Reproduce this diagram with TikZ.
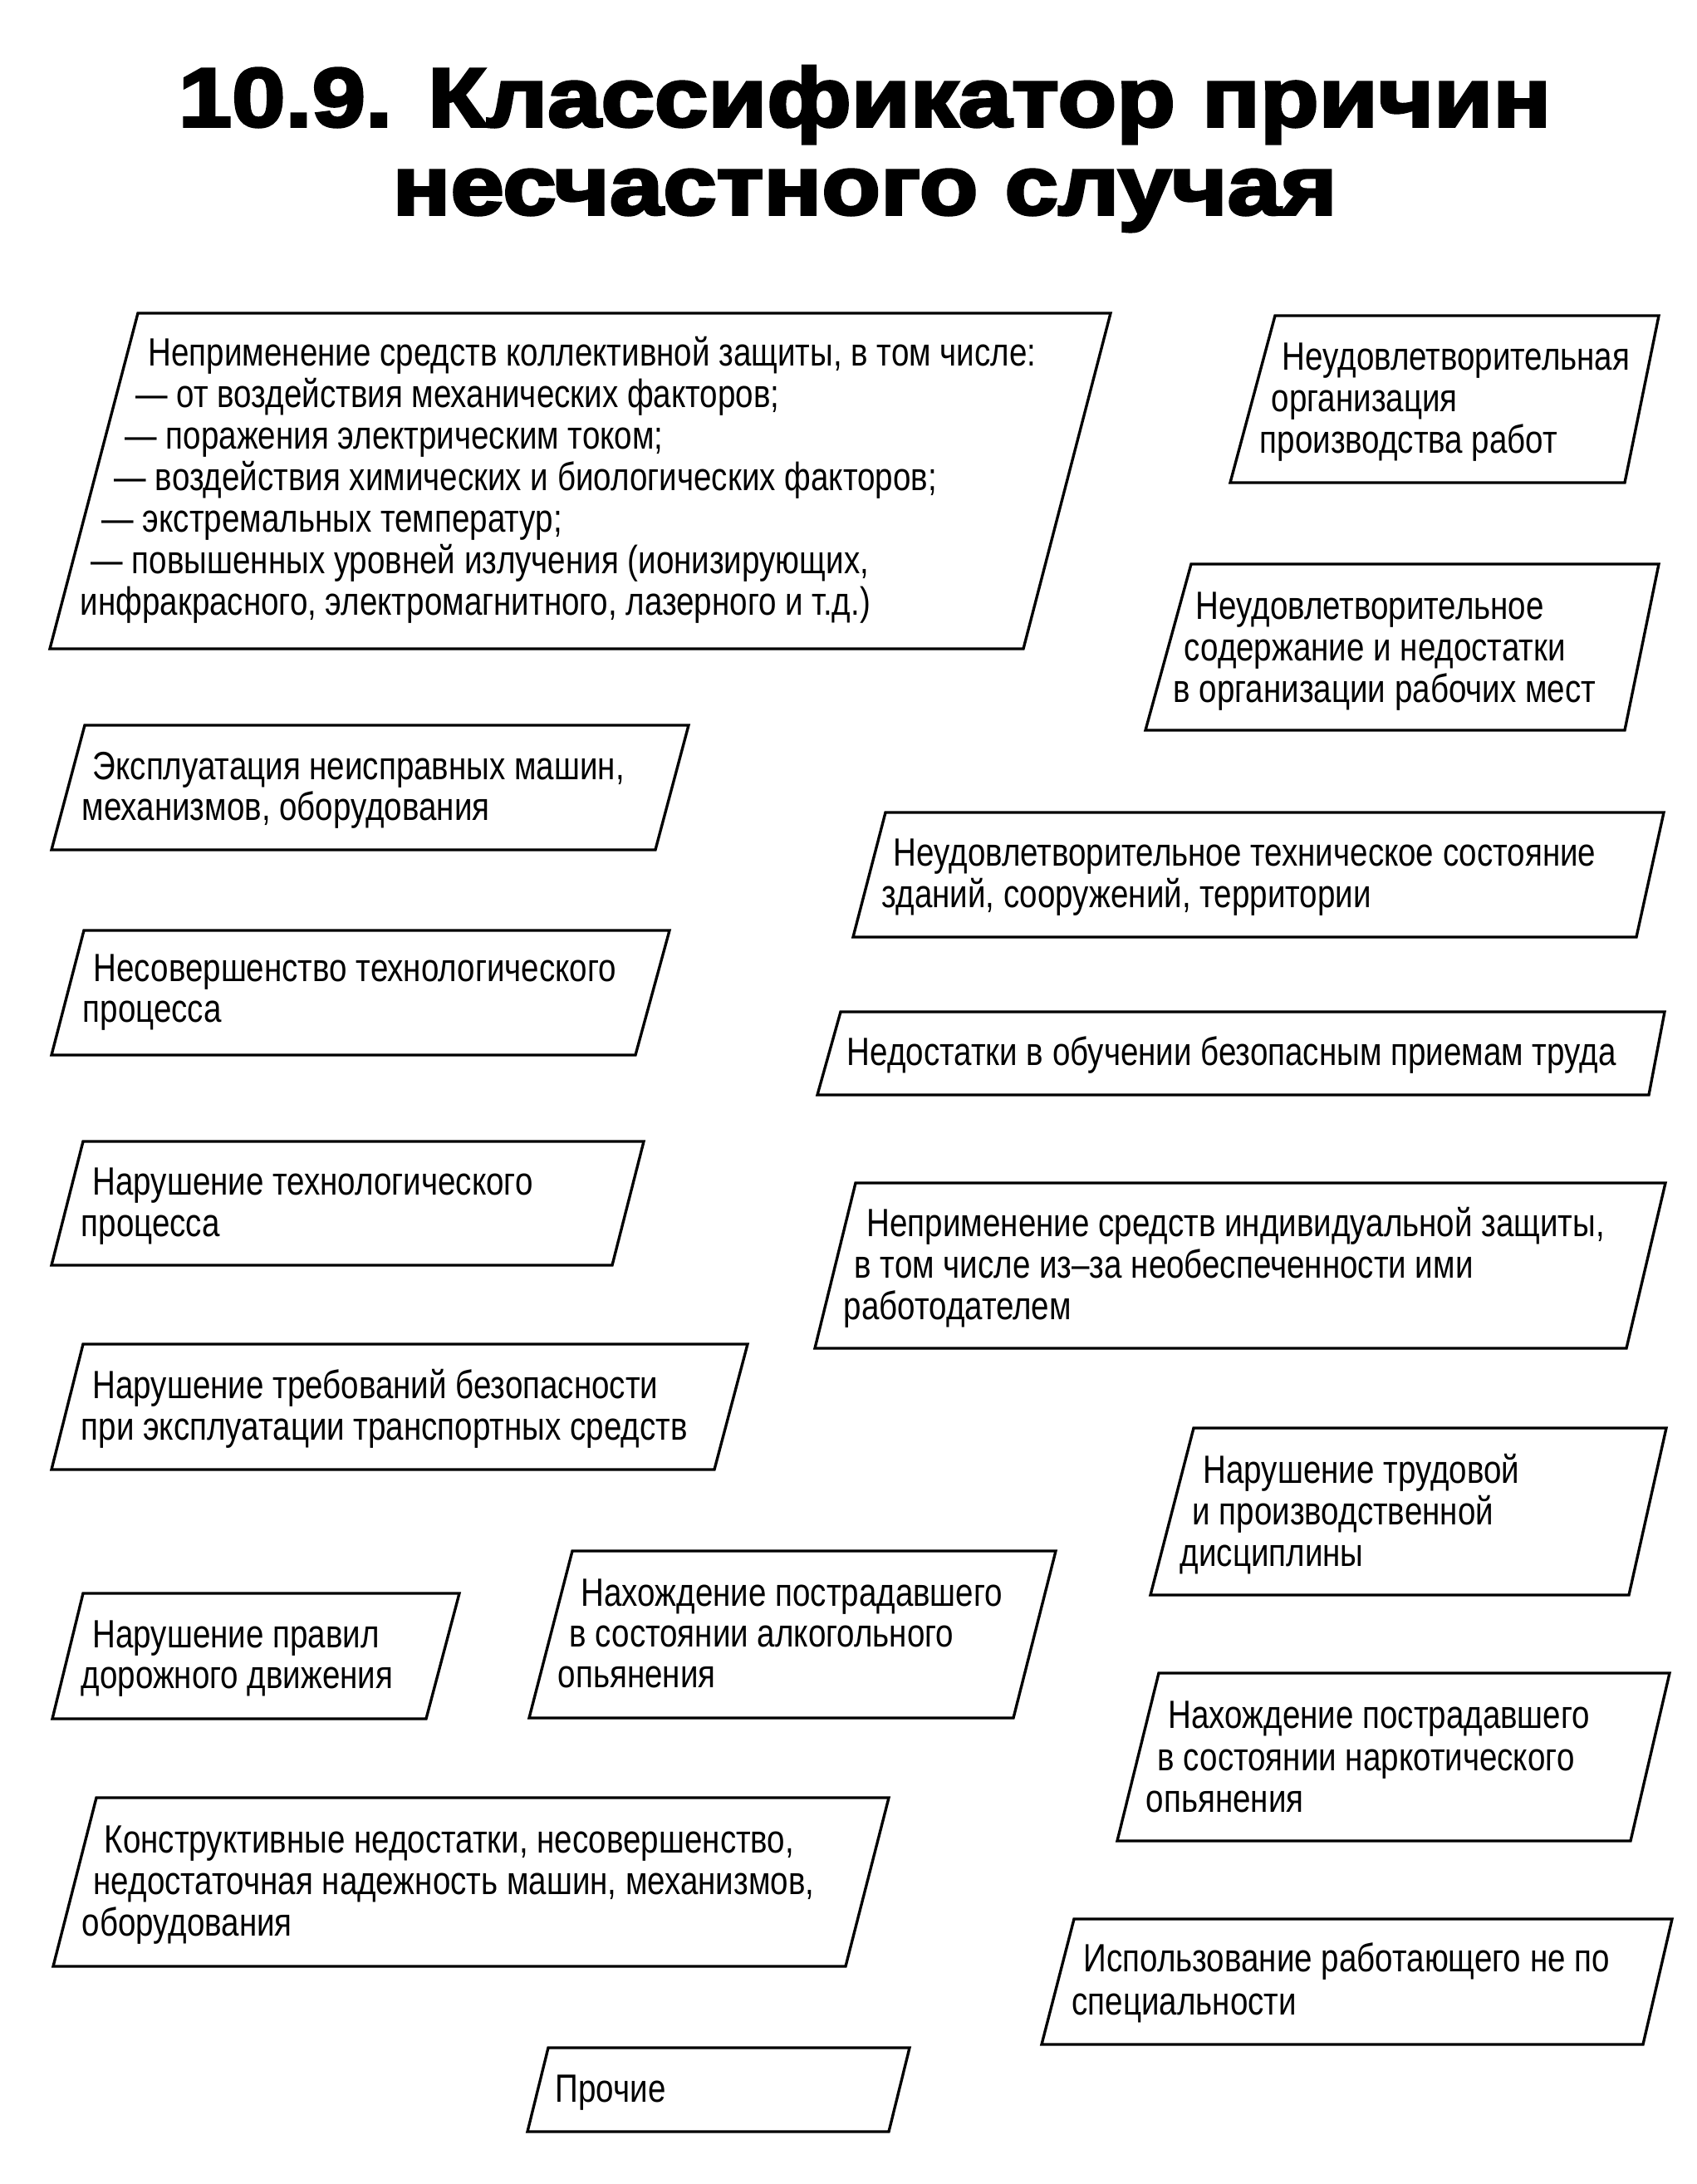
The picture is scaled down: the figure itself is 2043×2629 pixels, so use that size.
\documentclass[tikz,border=0pt]{standalone}
\usepackage{fontspec}
\setmainfont{Liberation Sans}[FakeStretch=0.812]
\newfontfamily\titlefont{Liberation Sans Bold}[FakeStretch=1.155,FakeBold=3.5]
\begin{document}
\begin{tikzpicture}[x=0.01cm,y=-0.01cm,
  pbox/.style={draw=black,line width=0.95pt,line join=miter},
  txt/.style={anchor=base west,inner sep=0pt,font=\fontsize{13.5}{14.2}\selectfont},
  ttl/.style={anchor=base,inner sep=0pt,font=\titlefont\fontsize{28.5}{30}\selectfont}]
\useasboundingbox[fill=white] (0,0) rectangle (2043,2629);
% title
\node[ttl] (t1) at (1041,152) {10.9. Классификатор причин};
\node[ttl] (t2) at (1041,258) {несчастного случая};
% boxes
\draw[pbox] (166,377) -- (1337,377) -- (1232,781) -- (60,781) -- cycle;
\draw[pbox] (1535,380) -- (1997,380) -- (1956,581) -- (1481,581) -- cycle;
\draw[pbox] (1434,679) -- (1997,679) -- (1956,879) -- (1379,879) -- cycle;
\draw[pbox] (102,873) -- (829,873) -- (789,1023) -- (62,1023) -- cycle;
\draw[pbox] (1066,978) -- (2003,978) -- (1970,1128) -- (1027,1128) -- cycle;
\draw[pbox] (101,1120) -- (806,1120) -- (765,1270) -- (62,1270) -- cycle;
\draw[pbox] (1012,1218) -- (2004,1218) -- (1985,1318) -- (984,1318) -- cycle;
\draw[pbox] (100,1374) -- (775,1374) -- (737,1523) -- (62,1523) -- cycle;
\draw[pbox] (1030,1424) -- (2005,1424) -- (1958,1623) -- (981,1623) -- cycle;
\draw[pbox] (100,1618) -- (900,1618) -- (860,1769) -- (62,1769) -- cycle;
\draw[pbox] (1437,1719) -- (2006,1719) -- (1961,1920) -- (1385,1920) -- cycle;
\draw[pbox] (100,1918) -- (553,1918) -- (513,2069) -- (63,2069) -- cycle;
\draw[pbox] (689,1867) -- (1271,1867) -- (1220,2068) -- (637,2068) -- cycle;
\draw[pbox] (1395,2014) -- (2010,2014) -- (1963,2216) -- (1345,2216) -- cycle;
\draw[pbox] (116,2164) -- (1070,2164) -- (1018,2367) -- (64,2367) -- cycle;
\draw[pbox] (1293,2310) -- (2013,2310) -- (1978,2461) -- (1254,2461) -- cycle;
\draw[pbox] (660,2465) -- (1095,2465) -- (1070,2566) -- (635,2566) -- cycle;
% box 1
\node[txt] (b1a) at (178,440) {Неприменение средств коллективной защиты, в том числе:};
\node[txt] (b1b) at (163,490) {— от воздействия механических факторов;};
\node[txt] (b1c) at (150,540) {— поражения электрическим током;};
\node[txt] (b1d) at (137,590) {— воздействия химических и биологических факторов;};
\node[txt] (b1e) at (122,640) {— экстремальных температур;};
\node[txt] (b1f) at (109,690) {— повышенных уровней излучения (ионизирующих,};
\node[txt] (b1g) at (96,740) {инфракрасного, электромагнитного, лазерного и т.д.)};
% box 2
\node[txt] (b2a) at (1543,445) {Неудовлетворительная};
\node[txt] (b2b) at (1530,495) {организация};
\node[txt] (b2c) at (1516,545) {производства работ};
% box 3
\node[txt] (b3a) at (1439,745) {Неудовлетворительное};
\node[txt] (b3b) at (1425,795) {содержание и недостатки};
\node[txt] (b3c) at (1412,845) {в организации рабочих мест};
% box 4
\node[txt] (b4a) at (111,938) {Эксплуатация неисправных машин,};
\node[txt] (b4b) at (98,987) {механизмов, оборудования};
% box 5
\node[txt] (b5a) at (1075,1042) {Неудовлетворительное техническое состояние};
\node[txt] (b5b) at (1061,1092) {зданий, сооружений, территории};
% box 6
\node[txt] (b6a) at (112,1181) {Несовершенство технологического};
\node[txt] (b6b) at (99,1230) {процесса};
% box 7
\node[txt] (b7a) at (1019,1282) {Недостатки в обучении безопасным приемам труда};
% box 8
\node[txt] (b8a) at (111,1438) {Нарушение технологического};
\node[txt] (b8b) at (97,1488) {процесса};
% box 9
\node[txt] (b9a) at (1043,1488) {Неприменение средств индивидуальной защиты,};
\node[txt] (b9b) at (1028,1538) {в том числе из–за необеспеченности ими};
\node[txt] (b9c) at (1015,1588) {работодателем};
% box 10
\node[txt] (b10a) at (111,1683) {Нарушение требований безопасности};
\node[txt] (b10b) at (97,1733) {при эксплуатации транспортных средств};
% box 11
\node[txt] (b11a) at (1448,1785) {Нарушение трудовой};
\node[txt] (b11b) at (1435,1835) {и производственной};
\node[txt] (b11c) at (1420,1885) {дисциплины};
% box 12
\node[txt] (b12a) at (111,1983) {Нарушение правил};
\node[txt] (b12b) at (97,2032) {дорожного движения};
% box 13
\node[txt] (b13a) at (699,1933) {Нахождение пострадавшего};
\node[txt] (b13b) at (685,1982) {в состоянии алкогольного};
\node[txt] (b13c) at (671,2031) {опьянения};
% box 14
\node[txt] (b14a) at (1406,2080) {Нахождение пострадавшего};
\node[txt] (b14b) at (1393,2131) {в состоянии наркотического};
\node[txt] (b14c) at (1379,2181) {опьянения};
% box 15
\node[txt] (b15a) at (125,2230) {Конструктивные недостатки, несовершенство,};
\node[txt] (b15b) at (112,2280) {недостаточная надежность машин, механизмов,};
\node[txt] (b15c) at (98,2330) {оборудования};
% box 16
\node[txt] (b16a) at (1304,2373) {Использование работающего не по};
\node[txt] (b16b) at (1290,2425) {специальности};
% box 17
\node[txt] (b17a) at (668,2530) {Прочие};
\end{tikzpicture}
\end{document}
